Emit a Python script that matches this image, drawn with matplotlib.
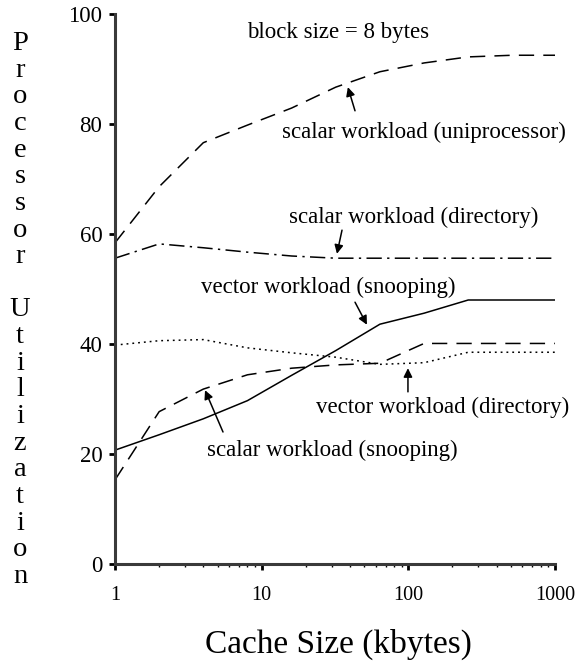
import numpy as np
import matplotlib
matplotlib.use("Agg")
import matplotlib.pyplot as plt
from matplotlib.ticker import LogLocator, NullFormatter, FixedLocator

plt.rcParams['font.family'] = ['Liberation Serif', 'DejaVu Serif']

# cache sizes (kbytes) and processor utilization (%) per workload
cache_kb = [1, 2, 4, 8, 16, 32, 64, 128, 256, 512, 1000]
scalar_uni = [58.4, 68.6, 76.6, 79.8, 82.9, 86.7, 89.5, 91.1, 92.2, 92.5, 92.5]
scalar_dir = [55.6, 58.2, 57.5, 56.7, 56.0, 55.6, 55.6, 55.6, 55.6, 55.6, 55.6]
vector_snoop = [20.7, 23.5, 26.4, 29.7, 34.3, 38.8, 43.6, 45.6, 48.0, 48.0, 48.0]
vector_dir = [39.8, 40.6, 40.8, 39.3, 38.4, 37.6, 36.3, 36.6, 38.5, 38.5, 38.5]
scalar_snoop = [15.3, 27.7, 31.8, 34.4, 35.6, 36.2, 36.5, 40.1, 40.1, 40.1, 40.1]

yticks = [0, 20, 40, 60, 80, 100]
xticks = [1, 10, 100, 1000]
xticklabels = ['1', '10', '100', '1000']

# label text, arrow tip, arrow tail, text centre (data coords)
notes = [
    ('scalar workload (uniprocessor)', (38.7, 86.7), (43.3, 82.4), (127, 78.4)),
    ('scalar workload (directory)', (32.6, 56.4), (35.3, 60.7), (109, 63.1)),
    ('vector workload (snooping)', (52.2, 43.5), (43.3, 47.6), (28.3, 50.2)),
    ('vector workload (directory)', (99.4, 35.6), (99.4, 31.3), (172, 28.5)),
    ('scalar workload (snooping)', (4.11, 31.6), (5.45, 24.0), (30.1, 20.7)),
]

fig = plt.figure(figsize=(5.83, 6.66), dpi=100)
ax = fig.add_axes([115 / 583, 102 / 666, 440 / 583, 550 / 666])

lw = 1.1
ax.plot(cache_kb, scalar_uni, color='black', lw=lw, dashes=(10, 6))
ax.plot(cache_kb, scalar_dir, color='black', lw=lw, dashes=(10, 3.5, 1.5, 3.5))
ax.plot(cache_kb, vector_snoop, color='black', lw=lw, linestyle='-')
ax.plot(cache_kb, vector_dir, color='black', lw=lw, dashes=(1.2, 2.6))
ax.plot(cache_kb, scalar_snoop, color='black', lw=lw, dashes=(10, 6))

ax.set_xscale('log')
ax.set_xlim(1, 1000)
ax.set_ylim(0, 100)

ax.xaxis.set_major_locator(FixedLocator(xticks))
ax.set_xticklabels(xticklabels)
ax.xaxis.set_minor_locator(LogLocator(base=10, subs=np.arange(2, 10)))
ax.xaxis.set_minor_formatter(NullFormatter())
ax.set_yticks(yticks)

for side in ('top', 'right'):
    ax.spines[side].set_visible(False)
for side in ('left', 'bottom'):
    ax.spines[side].set_linewidth(2.2)
    ax.spines[side].set_color('#3a3a3a')

ax.tick_params(axis='y', which='major', direction='out', length=4, width=2,
               pad=5, labelsize=16.5)
ax.tick_params(axis='x', which='major', direction='out', length=4, width=2,
               pad=12, labelsize=14.5)
ax.tick_params(axis='x', which='minor', direction='out', length=2.5, width=1)

ax.text(33.1, 96.7, 'block size = 8 bytes', ha='center', va='center', fontsize=16.5)

for label, tip, tail, pos in notes:
    ax.annotate('', xy=tip, xytext=tail,
                arrowprops=dict(arrowstyle='-|>', color='black', lw=1.1,
                                mutation_scale=13, shrinkA=0, shrinkB=0))
    ax.text(pos[0], pos[1], label, ha='center', va='center', fontsize=16.5)

# stacked vertical y label, one letter per row
ylabel = list('Processor') + [''] + list('Utilization')
step = 26.65
for i, ch in enumerate(ylabel):
    if ch:
        fig.text(20 / 583, 1 - (50 + i * step) / 666, ch, ha='center',
                 va='baseline', fontsize=20.5)

fig.text(338 / 583, 1 - 644 / 666, 'Cache Size (kbytes)', ha='center',
         va='center', fontsize=24)

fig.savefig('out.png', dpi=100)
